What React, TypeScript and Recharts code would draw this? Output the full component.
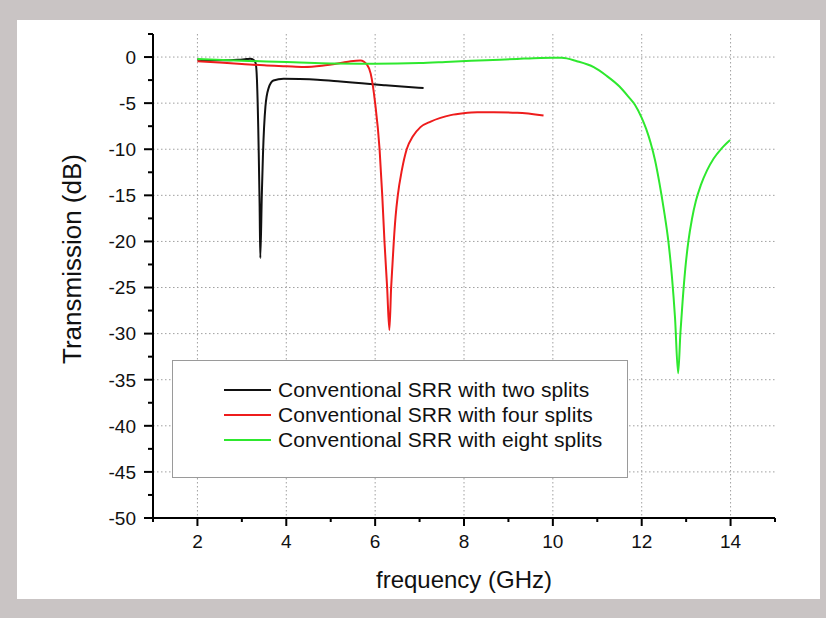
import React from 'react';
import { LineChart, Line, XAxis, YAxis, CartesianGrid, Legend, Label } from 'recharts';

// ---- data ----
const twoX = [2, 2.3, 2.6, 2.9, 3.1, 3.19, 3.26, 3.31, 3.34, 3.38, 3.4, 3.415, 3.45, 3.475, 3.53, 3.6, 3.71, 3.94, 4.3, 4.7, 5.22, 5.7, 6.2, 6.6, 7.09];
const twoY = [-0.3, -0.35, -0.36, -0.3, -0.22, -0.18, -0.3, -0.65, -2.5, -10.4, -16.2, -21.8, -14.8, -10.6, -5.4, -3.4, -2.55, -2.36, -2.38, -2.45, -2.65, -2.85, -3.05, -3.2, -3.37];

const fourX = [2, 2.5, 3, 3.5, 4, 4.4, 4.8, 5.22, 5.45, 5.67, 5.82, 5.9, 6.0, 6.1, 6.16, 6.21, 6.27, 6.32, 6.36, 6.39, 6.42, 6.46, 6.51, 6.6, 6.71, 6.85, 7.02, 7.25, 7.47, 7.7, 7.99, 8.3, 8.67, 9.2, 9.79];
const fourY = [-0.45, -0.6, -0.75, -0.9, -1.0, -1.08, -0.95, -0.65, -0.45, -0.37, -0.84, -1.8, -5.0, -10.0, -15.0, -20.0, -25.0, -29.6, -25.0, -22.5, -20.0, -17.3, -15.0, -12.3, -10.0, -8.6, -7.6, -7.0, -6.6, -6.3, -6.1, -6.0, -6.0, -6.05, -6.35];

const eightX = [2, 3, 4, 4.3, 5, 6, 7, 7.7, 8.5, 9.2, 9.72, 10.0, 10.2, 10.54, 10.92, 11.2, 11.5, 11.7, 11.85, 12.0, 12.1, 12.2, 12.3, 12.4, 12.5, 12.6, 12.68, 12.75, 12.82, 12.87, 12.92, 12.98, 13.05, 13.13, 13.22, 13.33, 13.47, 13.62, 13.8, 13.99];
const eightY = [-0.2, -0.4, -0.55, -0.6, -0.7, -0.73, -0.65, -0.5, -0.35, -0.2, -0.1, -0.08, -0.08, -0.45, -1.1, -2.0, -3.2, -4.3, -5.2, -6.6, -7.8, -9.3, -11.2, -13.7, -16.6, -20.0, -23.8, -28.3, -34.3, -30.0, -26.5, -23.0, -20.0, -17.6, -15.6, -13.9, -12.3, -11.0, -9.9, -9.0];

const seriesNames = [
  'Conventional SRR with two splits',
  'Conventional SRR with four splits',
  'Conventional SRR with eight splits',
];
const seriesColors = ['#111111', '#ee1c1c', '#2ee82e'];

const xTicks = [1, 2, 3, 4, 5, 6, 7, 8, 9, 10, 11, 12, 13, 14, 15];
const xMajor = [2, 4, 6, 8, 10, 12, 14];
const yTicks = [-50, -47.5, -45, -42.5, -40, -37.5, -35, -32.5, -30, -27.5, -25, -22.5, -20, -17.5, -15, -12.5, -10, -7.5, -5, -2.5, 0, 2.5];
const yMajor = [0, -5, -10, -15, -20, -25, -30, -35, -40, -45, -50];
const yGrid = [0, -5, -10, -15, -20, -25, -30, -35, -40, -45];

const xLabel = 'frequency (GHz)';
const yLabel = 'Transmission (dB)';

const toPoints = (xs: number[], ys: number[]) => xs.map((x, i) => ({ x, y: ys[i] }));
const seriesData = [toPoints(twoX, twoY), toPoints(fourX, fourY), toPoints(eightX, eightY)];

const FONT = '"Liberation Sans", Arial, Helvetica, sans-serif';

const XTick = (props: any) => {
  const { x, y, payload } = props;
  const major = xMajor.includes(payload.value);
  return (
    <g>
      <line x1={x} x2={x} y1={y} y2={y + (major ? 8 : 4)} stroke="#000" strokeWidth={2} />
      {major && (
        <text x={x} y={y + 30} textAnchor="middle" fontSize={19} fill="#111" fontFamily={FONT}>
          {payload.value}
        </text>
      )}
    </g>
  );
};

const YTick = (props: any) => {
  const { x, y, payload } = props;
  const major = yMajor.includes(payload.value);
  return (
    <g>
      <line x1={x} x2={x - (major ? 9 : 5)} y1={y} y2={y} stroke="#000" strokeWidth={2} />
      {major && (
        <text x={x - 17} y={y} dy="0.36em" textAnchor="end" fontSize={19} fill="#111" fontFamily={FONT}>
          {payload.value}
        </text>
      )}
    </g>
  );
};

const renderLegend = () => (
  <div
    style={{
      width: 456,
      height: 118,
      boxSizing: 'border-box',
      border: '1.5px solid #9a9a9a',
      background: '#fff',
      position: 'relative',
      fontFamily: FONT,
    }}
  >
    {seriesNames.map((n, i) => (
      <div key={n} style={{ position: 'absolute', left: 51, top: 29 + i * 25 - 12, height: 24, display: 'flex', alignItems: 'center' }}>
        <div style={{ width: 47, height: 2, background: seriesColors[i] }} />
        <span style={{ marginLeft: 7, fontSize: 21, color: '#111', whiteSpace: 'nowrap', lineHeight: '24px', letterSpacing: 0.1 }}>{n}</span>
      </div>
    ))}
  </div>
);

export default function App() {
  return (
    <div style={{ position: 'absolute', left: 0, top: 0, width: 826, height: 618, background: '#c9c4c4', overflow: 'hidden' }}>
      <div style={{ position: 'absolute', left: 17, top: 20, width: 803, height: 579, background: '#ffffff' }} />
      <div style={{ position: 'absolute', left: 0, top: 0 }}>
        <LineChart width={826} height={618} margin={{ top: 34, right: 51, bottom: 70, left: 92 }}>
          <CartesianGrid
            horizontalValues={yGrid}
            verticalValues={xMajor}
            stroke="#a0a0a0"
            strokeDasharray="1.5 2.5"
          />
          <XAxis
            dataKey="x"
            type="number"
            domain={[1, 15]}
            ticks={xTicks}
            interval={0}
            allowDataOverflow
            height={30}
            tickSize={0}
            tickMargin={0}
            tickLine={false}
            axisLine={{ stroke: '#000', strokeWidth: 2 }}
            tick={<XTick />}
          >
            <Label
              content={() => (
                <text x={464} y={588} textAnchor="middle" fontSize={24} fill="#111" fontFamily={FONT}>
                  {xLabel}
                </text>
              )}
            />
          </XAxis>
          <YAxis
            type="number"
            domain={[-50, 2.5]}
            ticks={yTicks}
            interval={0}
            allowDataOverflow
            width={61}
            tickSize={0}
            tickMargin={0}
            tickLine={false}
            axisLine={{ stroke: '#000', strokeWidth: 2 }}
            tick={<YTick />}
          >
            <Label
              content={() => (
                <text transform="translate(81,259) rotate(-90)" textAnchor="middle" fontSize={26} fill="#111" fontFamily={FONT}>
                  {yLabel}
                </text>
              )}
            />
          </YAxis>
          <Legend
            layout="vertical"
            align="center"
            verticalAlign="middle"
            content={renderLegend}
            wrapperStyle={{ position: 'absolute', left: 172, top: 360, width: 456, height: 118 }}
          />
          {seriesData.map((d, i) => (
            <Line
              key={seriesNames[i]}
              data={d}
              dataKey="y"
              name={seriesNames[i]}
              type="monotone"
              stroke={seriesColors[i]}
              strokeWidth={2}
              dot={false}
              activeDot={false}
              isAnimationActive={false}
            />
          ))}
        </LineChart>
      </div>
    </div>
  );
}
